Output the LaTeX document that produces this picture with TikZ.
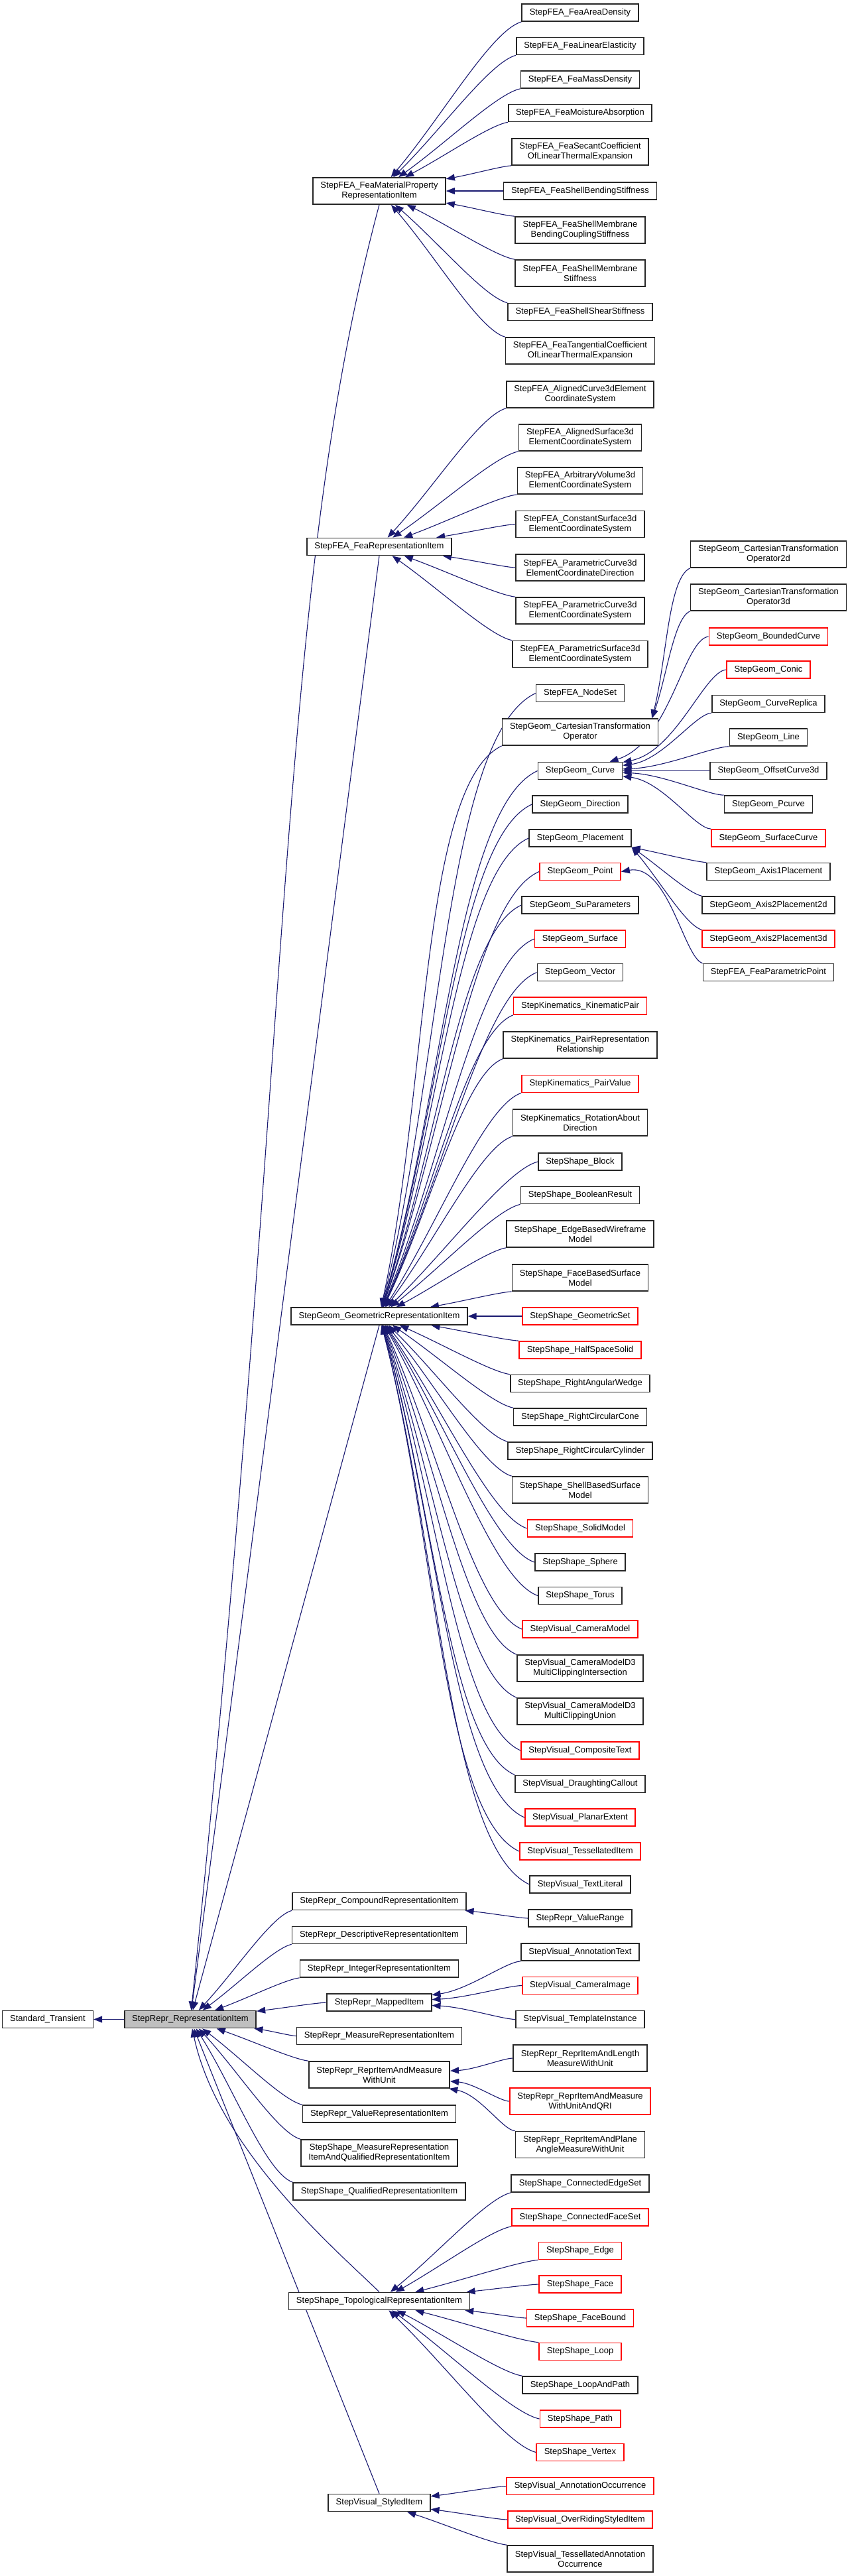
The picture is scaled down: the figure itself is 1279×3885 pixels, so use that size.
\documentclass[tikz,border=0pt]{standalone}
\usepackage{fontspec}
\setmainfont{Liberation Sans}
\usepackage{xcolor}
\usepackage{tikz}
\usetikzlibrary{arrows.meta, calc, backgrounds}

\definecolor{edgeblue}{HTML}{191970}

\tikzset{
  squash/.store in=\sqfac, squash=1,
  tailout/.store in=\tailexpr, tailout={180+\n1/3},
  headin/.store in=\headexpr, headin={\n1},
}

% #1 extra keys, #2 base class (or point on it), #3 tail on the derived class
\newcommand\inh[3][]{%
  \draw[inh,#1] let \p1=($(#3)-(#2)$), \n1={atan2(\sqfac*\y1,\x1)},
    \n2={\tailexpr}, \n3={\headexpr} in (#3) to[out=\n2, in=\n3] (#2);}

\begin{document}
\begin{tikzpicture}[x=0.2pt, y=-0.2pt,
  clsbox/.style={rectangle, draw=black!85, line width=0.34pt, fill=white,
    font=\fontsize{2.6}{3}\selectfont, align=center, inner xsep=2.3pt,
    inner ysep=0.4pt, minimum height=5.2pt},
  redbox/.style={clsbox, draw=red},
  curbox/.style={clsbox, fill=black!25},
  dbl/.style={minimum height=8pt},
  inh/.style={draw=edgeblue, line width=0.22pt,
    -{Triangle[length=2.6pt,width=2pt]}, out looseness=0.4}
]
  \useasboundingbox (0,0) rectangle (1279,3885);

  % root and the class itself
  \node[clsbox] (st) at (72, 3045.5) {Standard\_Transient};
  \node[curbox] (ri) at (287, 3045.5) {StepRepr\_RepresentationItem};

  % direct subclasses
  \node[clsbox, dbl] (fmp)  at (572, 288)    {StepFEA\_FeaMaterialProperty\\RepresentationItem};
  \node[clsbox]      (fri)  at (572, 824.5)  {StepFEA\_FeaRepresentationItem};
  \node[clsbox]      (gri)  at (572, 1985)   {StepGeom\_GeometricRepresentationItem};
  \node[clsbox]      (cri)  at (572, 2867.5) {StepRepr\_CompoundRepresentationItem};
  \node[clsbox]      (dri)  at (572, 2918.5) {StepRepr\_DescriptiveRepresentationItem};
  \node[clsbox]      (iri)  at (572, 2969)   {StepRepr\_IntegerRepresentationItem};
  \node[clsbox]      (mpi)  at (572, 3020)   {StepRepr\_MappedItem};
  \node[clsbox]      (mri)  at (572, 3070.5) {StepRepr\_MeasureRepresentationItem};
  \node[clsbox, dbl] (riam) at (572, 3129)   {StepRepr\_ReprItemAndMeasure\\WithUnit};
  \node[clsbox]      (vri)  at (572, 3188)   {StepRepr\_ValueRepresentationItem};
  \node[clsbox, dbl] (mrq)  at (572, 3247)   {StepShape\_MeasureRepresentation\\ItemAndQualifiedRepresentationItem};
  \node[clsbox]      (qri)  at (572, 3305)   {StepShape\_QualifiedRepresentationItem};
  \node[clsbox]      (tri)  at (572, 3470.5) {StepShape\_TopologicalRepresentationItem};
  \node[clsbox]      (sti)  at (572, 3774.5) {StepVisual\_StyledItem};

  % material properties
  \node[clsbox]      (fa1)  at (875, 19)    {StepFEA\_FeaAreaDensity};
  \node[clsbox]      (fa2)  at (875, 69.5)  {StepFEA\_FeaLinearElasticity};
  \node[clsbox]      (fa3)  at (875, 120)   {StepFEA\_FeaMassDensity};
  \node[clsbox]      (fa4)  at (875, 170.5) {StepFEA\_FeaMoistureAbsorption};
  \node[clsbox, dbl] (fa5)  at (875, 229)   {StepFEA\_FeaSecantCoefficient\\OfLinearThermalExpansion};
  \node[clsbox]      (fa6)  at (875, 288)   {StepFEA\_FeaShellBendingStiffness};
  \node[clsbox, dbl] (fa7)  at (875, 347)   {StepFEA\_FeaShellMembrane\\BendingCouplingStiffness};
  \node[clsbox, dbl] (fa8)  at (875, 412)   {StepFEA\_FeaShellMembrane\\Stiffness};
  \node[clsbox]      (fa9)  at (875, 470.5) {StepFEA\_FeaShellShearStiffness};
  \node[clsbox, dbl] (fa10) at (875, 529)   {StepFEA\_FeaTangentialCoefficient\\OfLinearThermalExpansion};

  % coordinate systems
  \node[clsbox, dbl] (fc1) at (875, 595)   {StepFEA\_AlignedCurve3dElement\\CoordinateSystem};
  \node[clsbox, dbl] (fc2) at (875, 660)   {StepFEA\_AlignedSurface3d\\ElementCoordinateSystem};
  \node[clsbox, dbl] (fc3) at (875, 725)   {StepFEA\_ArbitraryVolume3d\\ElementCoordinateSystem};
  \node[clsbox, dbl] (fc4) at (875, 790.5) {StepFEA\_ConstantSurface3d\\ElementCoordinateSystem};
  \node[clsbox, dbl] (fc5) at (875, 856)   {StepFEA\_ParametricCurve3d\\ElementCoordinateDirection};
  \node[clsbox, dbl] (fc6) at (875, 921)   {StepFEA\_ParametricCurve3d\\ElementCoordinateSystem};
  \node[clsbox, dbl] (fc7) at (875, 986.5) {StepFEA\_ParametricSurface3d\\ElementCoordinateSystem};

  % geometric items
  \node[clsbox]      (g1)  at (875, 1045.5) {StepFEA\_NodeSet};
  \node[clsbox, dbl] (g2)  at (875, 1104)   {StepGeom\_CartesianTransformation\\Operator};
  \node[clsbox]      (g3)  at (875, 1162.5) {StepGeom\_Curve};
  \node[clsbox]      (g4)  at (875, 1213)   {StepGeom\_Direction};
  \node[clsbox]      (g5)  at (875, 1264)   {StepGeom\_Placement};
  \node[redbox]      (g6)  at (875, 1314.5) {StepGeom\_Point};
  \node[clsbox]      (g7)  at (875, 1365)   {StepGeom\_SuParameters};
  \node[redbox]      (g8)  at (875, 1416)   {StepGeom\_Surface};
  \node[clsbox]      (g9)  at (875, 1466.5) {StepGeom\_Vector};
  \node[redbox]      (g10) at (875, 1517)   {StepKinematics\_KinematicPair};
  \node[clsbox, dbl] (g11) at (875, 1576)   {StepKinematics\_PairRepresentation\\Relationship};
  \node[redbox]      (g12) at (875, 1634.5) {StepKinematics\_PairValue};
  \node[clsbox, dbl] (g13) at (875, 1693)   {StepKinematics\_RotationAbout\\Direction};
  \node[clsbox]      (g14) at (875, 1752)   {StepShape\_Block};
  \node[clsbox]      (g15) at (875, 1802.5) {StepShape\_BooleanResult};
  \node[clsbox, dbl] (g16) at (875, 1861)   {StepShape\_EdgeBasedWireframe\\Model};
  \node[clsbox, dbl] (g17) at (875, 1927)   {StepShape\_FaceBasedSurface\\Model};
  \node[redbox]      (g18) at (875, 1985)   {StepShape\_GeometricSet};
  \node[redbox]      (g19) at (875, 2036)   {StepShape\_HalfSpaceSolid};
  \node[clsbox]      (g20) at (875, 2086.5) {StepShape\_RightAngularWedge};
  \node[clsbox]      (g21) at (875, 2137)   {StepShape\_RightCircularCone};
  \node[clsbox]      (g22) at (875, 2188)   {StepShape\_RightCircularCylinder};
  \node[clsbox, dbl] (g23) at (875, 2247)   {StepShape\_ShellBasedSurface\\Model};
  \node[redbox]      (g24) at (875, 2305)   {StepShape\_SolidModel};
  \node[clsbox]      (g25) at (875, 2356)   {StepShape\_Sphere};
  \node[clsbox]      (g26) at (875, 2406.5) {StepShape\_Torus};
  \node[redbox]      (g27) at (875, 2457)   {StepVisual\_CameraModel};
  \node[clsbox, dbl] (g28) at (875, 2516)   {StepVisual\_CameraModelD3\\MultiClippingIntersection};
  \node[clsbox, dbl] (g29) at (875, 2581)   {StepVisual\_CameraModelD3\\MultiClippingUnion};
  \node[redbox]      (g30) at (875, 2640)   {StepVisual\_CompositeText};
  \node[clsbox]      (g31) at (875, 2690.5) {StepVisual\_DraughtingCallout};
  \node[redbox]      (g32) at (875, 2741)   {StepVisual\_PlanarExtent};
  \node[redbox]      (g33) at (875, 2792)   {StepVisual\_TessellatedItem};
  \node[clsbox]      (g34) at (875, 2842)   {StepVisual\_TextLiteral};

  % lower right block
  \node[clsbox]      (vr)  at (875, 2893)   {StepRepr\_ValueRange};
  \node[clsbox]      (ann) at (875, 2944)   {StepVisual\_AnnotationText};
  \node[redbox]      (ci)  at (875, 2994.5) {StepVisual\_CameraImage};
  \node[clsbox]      (ti)  at (875, 3045.5) {StepVisual\_TemplateInstance};
  \node[clsbox, dbl] (rl)  at (875, 3104)   {StepRepr\_ReprItemAndLength\\MeasureWithUnit};
  \node[redbox, dbl] (rq)  at (875, 3169)   {StepRepr\_ReprItemAndMeasure\\WithUnitAndQRI};
  \node[clsbox, dbl] (rp)  at (875, 3234.5) {StepRepr\_ReprItemAndPlane\\AngleMeasureWithUnit};
  \node[clsbox]      (t1)  at (875, 3293)   {StepShape\_ConnectedEdgeSet};
  \node[redbox]      (t2)  at (875, 3344)   {StepShape\_ConnectedFaceSet};
  \node[redbox]      (t3)  at (875, 3394.5) {StepShape\_Edge};
  \node[redbox]      (t4)  at (875, 3445)   {StepShape\_Face};
  \node[redbox]      (t5)  at (875, 3496)   {StepShape\_FaceBound};
  \node[redbox]      (t6)  at (875, 3546.5) {StepShape\_Loop};
  \node[clsbox]      (t7)  at (875, 3597)   {StepShape\_LoopAndPath};
  \node[redbox]      (t8)  at (875, 3648)   {StepShape\_Path};
  \node[redbox]      (t9)  at (875, 3698.5) {StepShape\_Vertex};
  \node[redbox]      (s1)  at (875, 3749.5) {StepVisual\_AnnotationOccurrence};
  \node[redbox]      (s2)  at (875, 3800)   {StepVisual\_OverRidingStyledItem};
  \node[clsbox, dbl] (s3)  at (875, 3859)   {StepVisual\_TessellatedAnnotation\\Occurrence};

  % third level
  \node[clsbox, dbl] (op2) at (1159, 836)    {StepGeom\_CartesianTransformation\\Operator2d};
  \node[clsbox, dbl] (op3) at (1159, 901)    {StepGeom\_CartesianTransformation\\Operator3d};
  \node[redbox]      (c1)  at (1159, 960)    {StepGeom\_BoundedCurve};
  \node[redbox]      (c2)  at (1159, 1010)   {StepGeom\_Conic};
  \node[clsbox]      (c3)  at (1159, 1061.5) {StepGeom\_CurveReplica};
  \node[clsbox]      (c4)  at (1159, 1112)   {StepGeom\_Line};
  \node[clsbox]      (c5)  at (1159, 1162.5) {StepGeom\_OffsetCurve3d};
  \node[clsbox]      (c6)  at (1159, 1213)   {StepGeom\_Pcurve};
  \node[redbox]      (c7)  at (1159, 1264)   {StepGeom\_SurfaceCurve};
  \node[clsbox]      (p1)  at (1159, 1314.5) {StepGeom\_Axis1Placement};
  \node[clsbox]      (p2)  at (1159, 1365)   {StepGeom\_Axis2Placement2d};
  \node[redbox]      (p3)  at (1159, 1416)   {StepGeom\_Axis2Placement3d};
  \node[clsbox]      (pp)  at (1159, 1466.5) {StepFEA\_FeaParametricPoint};

  \begin{scope}[on background layer]
    \draw[inh] (ri) -- (st);

    % into StepRepr_RepresentationItem
    \inh[tailout=255, out looseness=0.56, in looseness=1.4]{ri}{fmp.south}
    \inh[tailout=\n1+180]{ri}{fri.south}
    \inh[tailout=\n1+180]{ri}{gri.south}
    \foreach \c/\a in {cri/south west, dri/south west, iri/south west, mpi/west,
        mri/west, riam/north west, vri/north west, mrq/north west, qri/north west}
      {\inh{ri}{\c.\a}}
    \inh[tailout=135, headin=-78]{ri}{tri.north}
    \inh[tailout=\n1+180]{ri}{sti.north}

    \foreach \c/\a in {fa1/south west, fa2/south west, fa3/south west,
        fa4/south west, fa5/south west, fa6/west, fa7/north west,
        fa8/north west, fa9/north west, fa10/north west}
      {\inh{fmp}{\c.\a}}

    \foreach \c/\a in {fc1/south west, fc2/south west, fc3/south west,
        fc4/west, fc5/west, fc6/north west, fc7/north west}
      {\inh{fri}{\c.\a}}

    \foreach \c/\a in {g1/west, g2/south west, g3/west, g4/west, g5/west,
        g6/west, g7/west, g8/west, g9/west, g10/south west, g11/south west,
        g12/south west, g13/south west, g14/west, g15/south west,
        g16/south west, g17/south west, g18/west, g19/north west,
        g20/north west, g21/north west, g22/north west, g23/north west,
        g24/west, g25/west, g26/west, g27/west, g28/north west,
        g29/north west, g30/west, g31/north west, g32/west, g33/west, g34/west}
      {\inh{gri}{\c.\a}}

    \inh{[xshift=-2pt]g2.north east}{op2.south west}
    \inh{[xshift=-2pt]g2.north east}{op3.south west}

    \foreach \c/\a in {c1/west, c2/west, c3/south west, c4/south west,
        c5/west, c6/north west, c7/north west}
      {\inh[squash=0.3]{g3}{\c.\a}}

    \foreach \c in {p1, p2, p3}
      {\inh{g5.south east}{\c.north west}}
    \inh[headin=10]{g6.east}{pp.north west}

    \inh{cri}{vr.west}
    \foreach \c/\a in {ann/south west, ci/west, ti/west}
      {\inh[squash=0.5]{mpi}{\c.\a}}
    \foreach \c/\a in {rl/west, rq/west, rp/north west}
      {\inh[squash=0.5]{riam}{\c.\a}}
    \foreach \c/\a in {t1/south west, t2/south west, t3/south west, t4/west,
        t5/west, t6/north west, t7/north west, t8/west, t9/west}
      {\inh{tri}{\c.\a}}
    \foreach \c/\a in {s1/west, s2/west, s3/north west}
      {\inh{sti}{\c.\a}}
  \end{scope}
\end{tikzpicture}
\end{document}
